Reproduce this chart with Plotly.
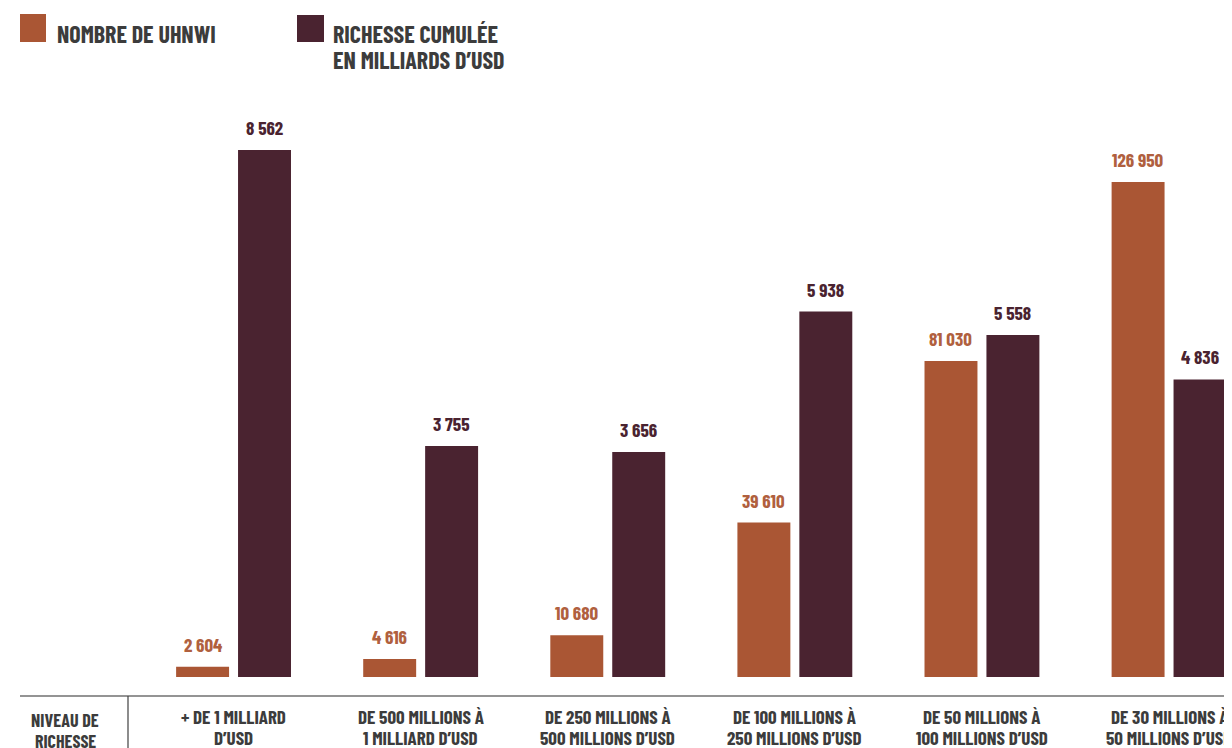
import plotly.graph_objects as go

categories = [
    "+ DE 1 MILLIARD<br>D’USD",
    "DE 500 MILLIONS À<br>1 MILLIARD D’USD",
    "DE 250 MILLIONS À<br>500 MILLIONS D’USD",
    "DE 100 MILLIONS À<br>250 MILLIONS D’USD",
    "DE 50 MILLIONS À<br>100 MILLIONS D’USD",
    "DE 30 MILLIONS À<br>50 MILLIONS D’USD",
]
uhnwi_count = [2604, 4616, 10680, 39610, 81030, 126950]
wealth_bn = [8562, 3755, 3656, 5938, 5558, 4836]
series_names = ["NOMBRE DE UHNWI", "RICHESSE CUMULÉE<br>EN MILLIARDS D’USD"]
row_title = "NIVEAU DE<br>RICHESSE"

ORANGE = "#AA5634"
DARK = "#4A2330"
TEXT = "#3C3C3C"
ORANGE_TXT = "#B0603E"
FONT = "Barlow Condensed, Archivo Narrow, Liberation Sans Narrow, sans-serif"

OFF = 8  # page body margin
W, H = 1232 - OFF, 748 - OFF
ML, MR, MT, MB = 140 - OFF, 0, 100 - OFF, 71
PW = W - ML - MR
PH = H - MT - MB


def px(x):  # page pixel -> paper
    return (x - OFF - ML) / PW


def py(y):
    return (H - MB - (y - OFF)) / PH


def fmt(v):
    return f"{v:,}".replace(",", " ")


idx = list(range(len(categories)))
bw = 0.283
gap = 0.024

fig = go.Figure()
fig.add_trace(go.Bar(
    x=idx, y=uhnwi_count, width=bw, offset=-gap - bw,
    marker=dict(color=ORANGE, line=dict(width=0)), yaxis="y",
    showlegend=False, hoverinfo="skip",
))
fig.add_trace(go.Bar(
    x=idx, y=wealth_bn, width=bw, offset=gap,
    marker=dict(color=DARK, line=dict(width=0)), yaxis="y2",
    showlegend=False, hoverinfo="skip",
))

ann = []
for i, v in enumerate(uhnwi_count):
    ann.append(dict(x=i - gap - bw / 2, y=v, xref="x", yref="y", text=fmt(v),
                    showarrow=False, yanchor="bottom", yshift=9,
                    font=dict(family=FONT, size=19, color=ORANGE_TXT, weight="bold")))
for i, v in enumerate(wealth_bn):
    ann.append(dict(x=i + gap + bw / 2, y=v, xref="x", yref="y2", text=fmt(v),
                    showarrow=False, yanchor="bottom", yshift=9,
                    font=dict(family=FONT, size=19, color=DARK, weight="bold")))

lab_font = dict(family=FONT, size=19, color=TEXT, weight="bold")
for i, c in enumerate(categories):
    for k, line in enumerate(c.split("<br>")):
        ann.append(dict(x=i, y=py(716 + 21 * k), xref="x", yref="paper", text=line,
                        showarrow=False, yanchor="middle", xanchor="center", font=lab_font))
for k, line in enumerate(row_title.split("<br>")):
    ann.append(dict(x=px(65), y=py(720 + 21 * k), xref="paper", yref="paper", text=line,
                    showarrow=False, yanchor="middle", xanchor="center",
                    font=dict(family=FONT, size=18, color=TEXT, weight="bold")))

leg_font = dict(family=FONT, size=24, color=TEXT, weight="bold")
ann.append(dict(x=px(55), y=py(33), xref="paper", yref="paper", text=series_names[0],
                showarrow=False, xanchor="left", yanchor="middle", font=leg_font))
for k, line in enumerate(series_names[1].split("<br>")):
    ann.append(dict(x=px(331), y=py(33 + 27 * k), xref="paper", yref="paper", text=line,
                    showarrow=False, xanchor="left", yanchor="middle", font=leg_font))

shapes = [
    dict(type="rect", xref="paper", yref="paper", x0=px(20), x1=px(46), y0=py(42), y1=py(14),
         fillcolor=ORANGE, line=dict(width=0)),
    dict(type="rect", xref="paper", yref="paper", x0=px(297), x1=px(324), y0=py(42), y1=py(15),
         fillcolor=DARK, line=dict(width=0)),
    dict(type="line", xref="paper", yref="paper", x0=px(20), x1=px(1240), y0=py(696), y1=py(696),
         line=dict(color="#707070", width=1.5)),
    dict(type="line", xref="paper", yref="paper", x0=px(128), x1=px(128), y0=py(696), y1=py(760),
         line=dict(color="#404040", width=1.2)),
]

fig.update_layout(
    width=W, height=H,
    margin=dict(l=ML, r=MR, t=MT, b=MB, pad=0),
    paper_bgcolor="white", plot_bgcolor="white",
    barmode="overlay",
    xaxis=dict(range=[-0.5, -0.5 + PW / 187.1], showticklabels=False, showgrid=False,
               zeroline=False, showline=False, ticks=""),
    yaxis=dict(range=[0, 148000], visible=False, showgrid=False, zeroline=False),
    yaxis2=dict(range=[0, 9376], overlaying="y", visible=False, showgrid=False, zeroline=False),
    annotations=ann, shapes=shapes, showlegend=False,
)

fig.write_html("out.html")
